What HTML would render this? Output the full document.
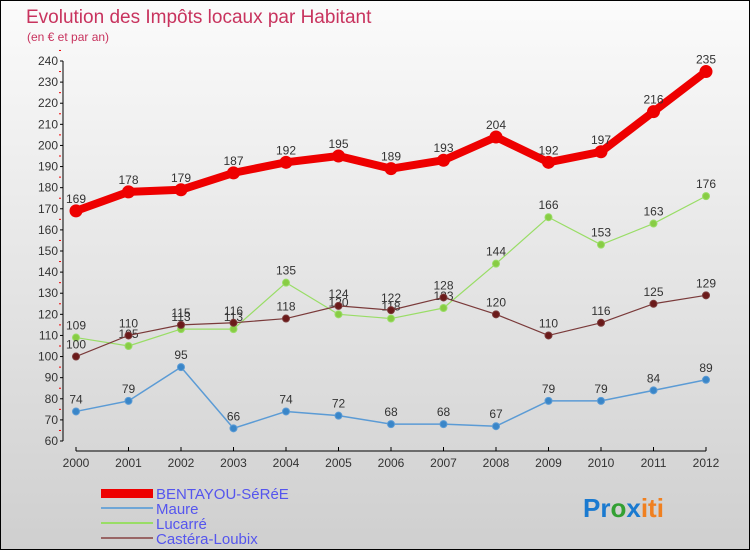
<!DOCTYPE html>
<html><head><meta charset="utf-8"><style>
body{margin:0}
#c{width:750px;height:550px;position:relative;box-sizing:border-box;border:1px solid #000;background:linear-gradient(#fbfbfb,#cfcfcf);overflow:hidden;font-family:"Liberation Sans",sans-serif}
</style></head><body>
<div id="c">
<svg id="s" width="750" height="550" style="position:absolute;left:0;top:0">
<text x="25" y="22" font-size="19" fill="#c8335e">Evolution des Impôts locaux par Habitant</text>
<text x="26" y="40" font-size="12" fill="#c8335e">(en € et par an)</text>
<g id="axes"></g><g id="series"></g>
<g font-size="15" fill="#5555ee">
<rect x="100" y="488" width="52" height="9" fill="#e00"/>
<text x="155" y="498">BENTAYOU-SéRéE</text>
<rect x="100" y="506" width="52" height="2" fill="#6fa6d6"/>
<text x="155" y="513">Maure</text>
<rect x="100" y="521" width="52" height="2" fill="#99dd66"/>
<text x="155" y="528">Lucarré</text>
<rect x="100" y="536" width="52" height="2" fill="#996666"/>
<text x="155" y="543">Castéra-Loubix</text>
</g>
<text x="582" y="516" font-size="26" font-weight="bold"><tspan fill="#1a7ad0">Pr</tspan><tspan fill="#33a033">o</tspan><tspan fill="#1a7ad0">x</tspan><tspan fill="#f08020">iti</tspan></text>
</svg>
</div>
<script>
const years=[2000,2001,2002,2003,2004,2005,2006,2007,2008,2009,2010,2011,2012];
const bentayou=[169,178,179,187,192,195,189,193,204,192,197,216,235];
const maure=[74,79,95,66,74,72,68,68,67,79,79,84,89];
const lucarre=[109,105,113,113,135,120,118,123,144,166,153,163,176];
const castera=[100,110,115,116,118,124,122,128,120,110,116,125,129];
const yTicks=[60,70,80,90,100,110,120,130,140,150,160,170,180,190,200,210,220,230,240];
const NS="http://www.w3.org/2000/svg";
const X=i=>75+i*52.5;
const Y=v=>440-(v-60)*(380/180);
function mk(t,a,p){const e=document.createElementNS(NS,t);for(const k in a)e.setAttribute(k,a[k]);p.appendChild(e);return e;}
const ax=document.getElementById('axes');
let yl=mk('line',{x1:62,y1:Y(240),x2:62,y2:Y(60),stroke:'#000'},ax);


yTicks.forEach(v=>{
 mk('line',{x1:59,y1:Y(v),x2:62,y2:Y(v),stroke:'#000'},ax);
 mk('line',{x1:58,y1:Y(v+5),x2:60,y2:Y(v+5),stroke:'#e00'},ax);
 const t=mk('text',{x:57,y:Y(v)+4,'font-size':12,'text-anchor':'end',fill:'#333'},ax);t.textContent=v;
 
 
});
let xl=mk('line',{x1:X(0),y1:450,x2:X(12),y2:450,stroke:'#000'},ax);


years.forEach((y,i)=>{
 mk('line',{x1:X(i),y1:446,x2:X(i),y2:450,stroke:'#000'},ax);
 const t=mk('text',{x:X(i),y:466,'font-size':12,'text-anchor':'middle',fill:'#333'},ax);t.textContent=y;
 
 
});
const sg=document.getElementById('series');
function draw(data,name,col,w,r,fill){
 const g=mk('g',{},sg);
 
 
 const pl=mk('polyline',{points:data.map((v,i)=>X(i)+','+Y(v)).join(' '),fill:'none',stroke:col,'stroke-width':w,'stroke-linejoin':'round'},g);
 
 
 data.forEach((v,i)=>{
  const c=mk('circle',{cx:X(i),cy:Y(v),r:r,fill:fill,stroke:col,'stroke-width':1},g);
  
  
  const t=mk('text',{x:X(i),y:Y(v)-8,'font-size':12,'text-anchor':'middle',fill:'#333'},g);t.textContent=v;
  
  
 });
}
draw(maure,'maure','#5b9bd5',1.5,3.5,'#3a86c8');
draw(lucarre,'lucarre','#99dd66',1.2,3.5,'#88cc44');
draw(castera,'castera','#7a3a3a',1.2,3.5,'#6b1a1a');
draw(bentayou,'bentayou','#ee0000',8,6,'#ee0000');
</script>
</body></html>
